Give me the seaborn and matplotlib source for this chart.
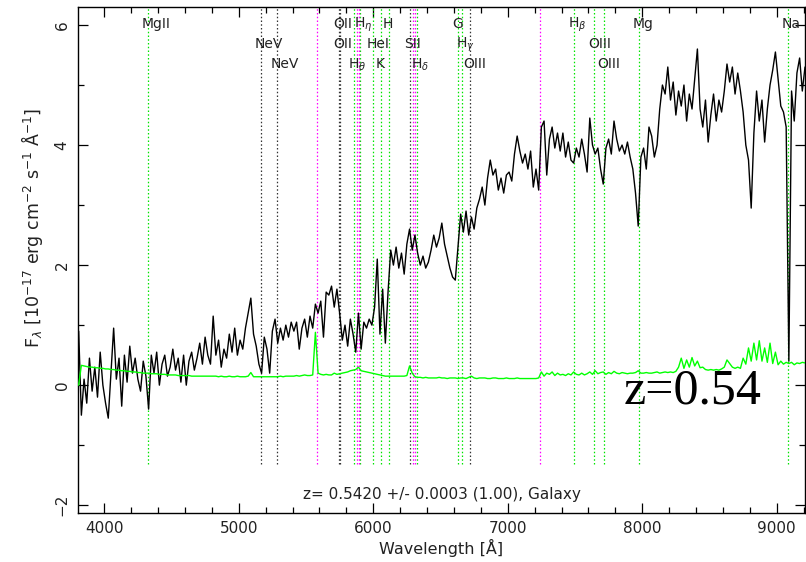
import numpy as np
import pandas as pd
import matplotlib
matplotlib.use("Agg")
import matplotlib.pyplot as plt
import seaborn as sns
from matplotlib.ticker import MultipleLocator

# ---------------------------------------------------------------------------
# Data (20 A sampling from 3810 A)
# ---------------------------------------------------------------------------
wave_start = 3810
wave_step = 20

flux = [
    0.9, -0.5, 0.1, -0.3, 0.45, -0.1, 0.3, -0.2, 0.55, 0.0,
    -0.3, -0.55, 0.2, 0.95, 0.1, 0.45, -0.35, 0.5, 0.05, 0.65,
    0.2, 0.45, 0.1, -0.1, 0.4, 0.15, -0.4, 0.5, 0.2, 0.55,
    0.0, 0.35, 0.5, 0.15, 0.3, 0.6, 0.25, 0.45, 0.05, 0.5,
    0.0, 0.4, 0.55, 0.25, 0.45, 0.7, 0.35, 0.8, 0.5, 0.35,
    1.15, 0.5, 0.75, 0.3, 0.6, 0.45, 0.85, 0.55, 0.95, 0.5,
    0.75, 0.6, 0.95, 1.2, 1.45, 0.85, 0.65, 0.35, 0.2, 0.8,
    0.6, 0.2, 0.9, 1.1, 0.7, 0.95, 0.75, 1.0, 0.8, 1.05,
    0.9, 1.05, 0.6, 0.95, 1.1, 0.8, 1.15, 0.95, 1.35, 1.2,
    1.4, 0.8, 1.55, 1.5, 1.65, 1.3, 1.6, 1.2, 0.75, 1.0,
    0.65, 1.1, 0.85, 0.55, 1.2, 0.6, 1.05, 0.95, 1.1, 1.0,
    1.3, 2.1, 0.85, 1.6, 0.7, 1.55, 2.25, 2.0, 2.3, 1.95,
    2.2, 1.85, 2.35, 2.6, 2.25, 2.5, 2.2, 2.0, 2.15, 1.95,
    2.05, 2.25, 2.5, 2.3, 2.45, 2.7, 2.35, 2.15, 1.95, 1.8,
    1.75, 2.3, 2.85, 2.55, 2.9, 2.5, 2.8, 2.6, 2.95, 3.1,
    3.3, 3.0, 3.45, 3.75, 3.5, 3.6, 3.25, 3.45, 3.2, 3.5,
    3.55, 3.4, 3.85, 4.15, 3.9, 3.7, 3.85, 3.6, 3.9, 3.3,
    3.6, 3.25, 4.3, 4.4, 3.5, 4.1, 4.3, 3.95, 4.2, 3.9,
    4.2, 3.8, 4.05, 3.75, 3.7, 3.95, 3.8, 4.1, 3.85, 3.55,
    4.45, 4.0, 3.85, 3.95, 3.6, 3.35, 3.95, 4.1, 3.85, 4.4,
    4.1, 3.9, 4.0, 3.85, 4.05, 3.8, 3.6, 3.2, 2.65, 3.8,
    3.95, 3.6, 4.3, 4.15, 3.8, 4.0, 4.6, 5.0, 4.85, 5.3,
    4.75, 5.05, 4.5, 4.9, 4.65, 5.0, 4.4, 4.85, 4.6, 5.1,
    5.6, 4.6, 4.3, 4.75, 4.05, 4.5, 4.85, 4.4, 4.75, 4.55,
    4.9, 5.35, 5.05, 5.3, 4.85, 5.2, 4.9, 4.55, 4.0, 3.75,
    2.95, 4.2, 4.9, 4.4, 4.75, 4.05, 4.6, 5.0, 5.25, 5.55,
    5.1, 4.65, 4.55, 4.3, 0.4, 4.9, 4.4, 5.2, 5.45, 4.9, 5.3,
]

error = [
    0.0, 0.33, 0.32, 0.31, 0.3, 0.3, 0.29, 0.29, 0.28, 0.28,
    0.27, 0.27, 0.26, 0.26, 0.25, 0.25, 0.24, 0.24, 0.23, 0.23,
    0.22, 0.22, 0.21, 0.21, 0.2, 0.2, 0.2, 0.19, 0.19, 0.19,
    0.18, 0.18, 0.18, 0.17, 0.17, 0.17, 0.17, 0.16, 0.16, 0.16,
    0.16, 0.16, 0.15, 0.15, 0.15, 0.15, 0.15, 0.15, 0.15, 0.15,
    0.15, 0.15, 0.14, 0.15, 0.14, 0.14, 0.15, 0.14, 0.14, 0.15,
    0.14, 0.14, 0.14, 0.15, 0.21, 0.14, 0.14, 0.14, 0.14, 0.14,
    0.14, 0.14, 0.14, 0.14, 0.14, 0.15, 0.14, 0.15, 0.15, 0.15,
    0.15, 0.16, 0.15, 0.16, 0.17, 0.16, 0.16, 0.17, 0.88, 0.2,
    0.18, 0.17, 0.18, 0.17, 0.17, 0.2, 0.18, 0.19, 0.2, 0.21,
    0.22, 0.24, 0.25, 0.26, 0.3, 0.24, 0.23, 0.22, 0.21, 0.2,
    0.19, 0.18, 0.17, 0.16, 0.15, 0.15, 0.15, 0.15, 0.15, 0.15,
    0.15, 0.15, 0.16, 0.32, 0.2, 0.14, 0.13, 0.13, 0.12, 0.13,
    0.12, 0.12, 0.12, 0.12, 0.13, 0.12, 0.12, 0.11, 0.12, 0.12,
    0.12, 0.11, 0.12, 0.12, 0.11, 0.13, 0.15, 0.12, 0.11, 0.12,
    0.12, 0.12, 0.11, 0.11, 0.12, 0.12, 0.11, 0.11, 0.11, 0.12,
    0.11, 0.11, 0.11, 0.12, 0.11, 0.11, 0.11, 0.11, 0.11, 0.11,
    0.11, 0.12, 0.22, 0.15, 0.2, 0.18, 0.22, 0.16, 0.2, 0.17,
    0.18, 0.16, 0.19, 0.17, 0.22, 0.18, 0.17, 0.2, 0.17, 0.19,
    0.22, 0.18, 0.24, 0.19, 0.21, 0.22, 0.18, 0.21, 0.19, 0.23,
    0.2, 0.19, 0.21, 0.2, 0.19, 0.2, 0.2, 0.21, 0.24, 0.2,
    0.2, 0.21, 0.2, 0.2, 0.21, 0.22, 0.2, 0.21, 0.22, 0.21,
    0.22, 0.21, 0.23, 0.3, 0.45, 0.28, 0.42, 0.3, 0.46, 0.32,
    0.4, 0.29, 0.3, 0.26, 0.25, 0.26, 0.25, 0.26, 0.25, 0.27,
    0.3, 0.42, 0.36, 0.3, 0.28, 0.3, 0.28, 0.45, 0.35, 0.62,
    0.4, 0.7, 0.42, 0.74, 0.4, 0.62, 0.38, 0.7, 0.36, 0.55,
    0.34, 0.4, 0.35, 0.38, 0.36, 0.38, 0.34, 0.37, 0.36, 0.38, 0.37,
]

# spectral features marked on the plot (observed wavelength, A)
line_names = ["MgII", "NeV", "NeV", "OII", "OII", r"H$_\theta$", r"H$_\eta$",
              "HeI", "K", "H", "SII", r"H$_\delta$", "G", r"H$_\gamma$",
              "OIII", r"H$_\beta$", "OIII", "OIII", "Mg", "Na"]
line_waves = [4324, 5163, 5282, 5747, 5750, 5856, 5905, 5995, 6061, 6116,
              6277, 6322, 6631, 6663, 6717, 7489, 7640, 7712, 7974, 9080]
line_kind = ["abs", "em", "em", "em", "em", "abs", "abs", "abs", "abs", "abs",
             "em", "abs", "abs", "abs", "em", "abs", "abs", "abs", "abs", "abs"]
sky_waves = [5579, 5880, 5895, 6292, 6307, 7240]

redshift_text = "z= 0.5420 +/- 0.0003 (1.00), Galaxy"
big_label = "z=0.54"

# ---------------------------------------------------------------------------
# Layout / style
# ---------------------------------------------------------------------------
label_row = [0, 1, 2, 0, 1, 2, 0, 1, 2, 0, 1, 2, 0, 1, 2, 0, 1, 2, 0, 0]
row_y = [5.95, 5.62, 5.28]
kind_color = {"abs": "#00e600", "em": "#333333", "sky": "#ff00ff"}
text_color = "#222222"

sns.set_style("ticks")
plt.rcParams["font.family"] = ["DejaVu Sans"]

wavelength = wave_start + wave_step * np.arange(len(flux))
df = pd.DataFrame({"wavelength": wavelength, "flux": flux, "error": error})

fig = plt.figure(figsize=(8.06, 5.62), dpi=100)
ax = fig.add_axes([78 / 806, 49 / 562, 727 / 806, 506 / 562])

dots = (0, (1.2, 1.8))
for w, kind in zip(line_waves, line_kind):
    ax.axvline(w, ymin=0.097, ymax=1, color=kind_color[kind], lw=0.9,
               ls=dots, zorder=1)
for w in sky_waves:
    ax.axvline(w, ymin=0.097, ymax=1, color=kind_color["sky"], lw=0.9,
               ls=dots, zorder=1)

sns.lineplot(data=df, x="wavelength", y="flux", color="black", lw=1.0,
             estimator=None, sort=False, ax=ax, zorder=3)
sns.lineplot(data=df, x="wavelength", y="error", color="#00ff00", lw=1.0,
             estimator=None, sort=False, ax=ax, zorder=4)

for name, w, row in zip(line_names, line_waves, label_row):
    ax.annotate(name, xy=(w, row_y[row]), xytext=(-6, 0),
                textcoords="offset pixels", ha="left", va="baseline",
                fontsize=10, color=text_color, zorder=5)

ax.text(6510, -1.9, redshift_text, ha="center", va="baseline",
        fontsize=11, color=text_color)
ax.text(7860, -0.3, big_label, ha="left", va="baseline", fontsize=36,
        family="Liberation Serif", color="black", zorder=6)

ax.set_xlim(3805, 9210)
ax.set_ylim(-2.13, 6.3)
ax.xaxis.set_major_locator(MultipleLocator(1000))
ax.xaxis.set_minor_locator(MultipleLocator(200))
ax.yaxis.set_major_locator(MultipleLocator(2))
ax.yaxis.set_minor_locator(MultipleLocator(1))
ax.tick_params(which="both", direction="in", top=True, right=True,
               colors="black", labelcolor=text_color, labelsize=11, width=0.9)
ax.tick_params(which="major", length=7)
ax.tick_params(which="minor", length=4)
ax.tick_params(axis="x", pad=6)
ax.tick_params(axis="y", labelrotation=90, pad=6)
for lab in ax.get_yticklabels():
    lab.set_va("center")

for sp in ax.spines.values():
    sp.set_linewidth(1.0)
    sp.set_color("black")

ax.set_xlabel("Wavelength [Å]", fontsize=11.5, color=text_color)
ax.set_ylabel(r"F$_\lambda$ [10$^{-17}$ erg cm$^{-2}$ s$^{-1}$ Å$^{-1}$]",
              fontsize=12.5, color=text_color)
ax.xaxis.set_label_coords(0.5, -0.052)
ax.yaxis.set_label_coords(-0.045, 0.563)

fig.savefig("out.png", dpi=100)
